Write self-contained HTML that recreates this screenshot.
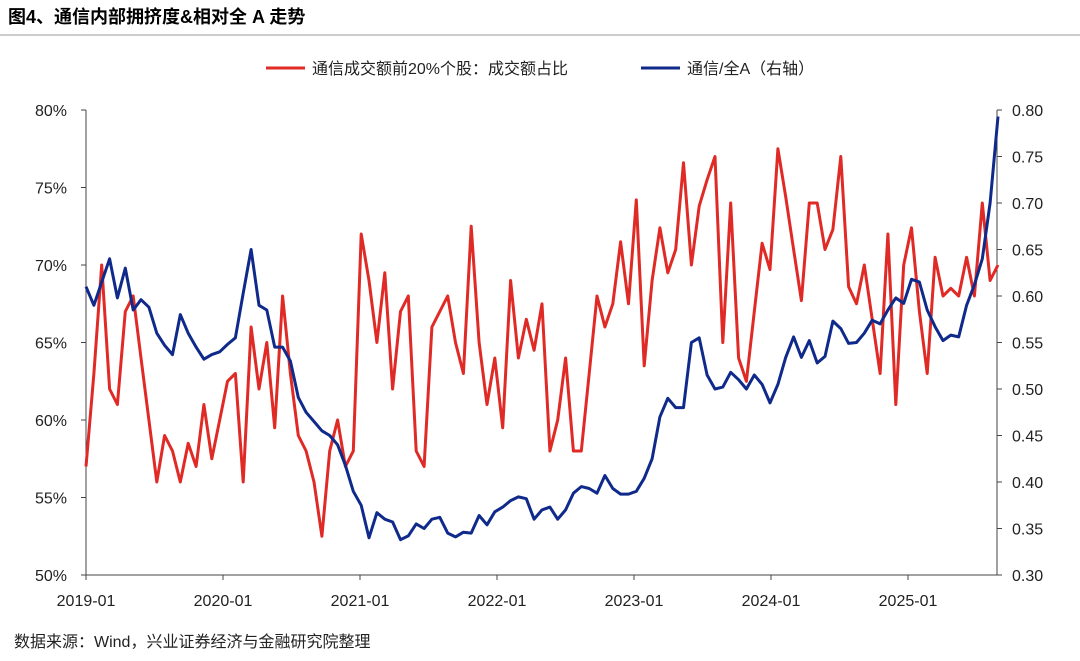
<!DOCTYPE html>
<html><head><meta charset="utf-8">
<style>
body{margin:0;background:#fff;width:1080px;height:656px;overflow:hidden;font-family:"Liberation Sans","Noto Sans CJK SC",sans-serif;}
svg text{font-family:"Liberation Sans","Noto Sans CJK SC",sans-serif;}
</style></head>
<body>
<svg id="chart" width="1080" height="656">
<text x="8" y="23" font-size="18" font-weight="bold" fill="#000">图4、通信内部拥挤度&amp;相对全 A 走势</text>
<line x1="0" y1="35" x2="1080" y2="35" stroke="#999" stroke-width="1"/>
<g>
<g><line x1="266" y1="68" x2="305" y2="68" stroke="#e02a26" stroke-width="3"/><text x="312" y="74" font-size="16" fill="#222">通信成交额前20%个股：成交额占比</text></g>
<g><line x1="641" y1="68" x2="680" y2="68" stroke="#0f2a8a" stroke-width="3"/><text x="687" y="74" font-size="16" fill="#222">通信/全A（右轴）</text></g>
</g>
<g id="axes"></g>
<g id="series"></g>
<text x="14" y="647" font-size="16" fill="#222">数据来源：Wind，兴业证券经济与金融研究院整理</text>
</svg>
<script>
const xLabels=["2019-01","2020-01","2021-01","2022-01","2023-01","2024-01","2025-01"];
const leftTicks=[50,55,60,65,70,75,80];
const rightTicks=[0.30,0.35,0.40,0.45,0.50,0.55,0.60,0.65,0.70,0.75,0.80];
const redShare=[57,63,70,62,61,67,68,64,60,56,59,58,56,58.5,57,61,57.5,60,
62.5,63,56,66,62,65,59.5,68,63,59,58,56,52.5,58,60,57,58,
72,69,65,69.5,62,67,68,58,57,66,67,68,65,63,72.5,65,61,64,
59.5,69,64,66.5,64.5,67.5,58,60,64,58,58,63,68,66,67.5,71.5,67.5,
74.2,63.5,69,72.4,69.5,71,76.6,70,73.8,75.5,77,65,74,64,62.5,67,71.4,69.7,77.5,74.4,71,67.7,74,74,71,72.3,77,68.6,67.5,70,66.5,63,72,61,70,72.4,67,63,70.5,68,68.5,68,70.5,68,74,69,70];
const blueRatio=[0.610,0.590,0.615,0.640,0.598,0.630,0.585,0.596,0.588,0.560,0.547,0.537,0.580,0.560,0.545,0.532,0.537,0.540,
0.548,0.555,0.603,0.650,0.590,0.585,0.545,0.545,0.530,0.491,0.475,0.465,0.455,0.450,0.440,0.418,0.390,
0.375,0.340,0.367,0.360,0.357,0.338,0.342,0.355,0.350,0.360,0.362,0.345,0.341,0.346,0.345,0.364,0.354,0.368,
0.373,0.380,0.384,0.382,0.360,0.370,0.373,0.360,0.370,0.388,0.395,0.393,0.388,0.407,0.393,0.387,0.387,
0.390,0.404,0.425,0.470,0.490,0.480,0.480,0.550,0.555,0.515,0.500,0.502,0.518,0.510,0.500,0.515,0.505,0.485,0.505,0.534,0.556,0.534,0.552,0.528,0.535,0.573,0.565,0.549,0.550,0.560,0.574,0.570,0.585,0.598,0.592,0.618,0.615,0.585,0.567,0.552,0.558,0.556,0.590,0.612,0.640,0.700,0.793];
const NS="http://www.w3.org/2000/svg";
const X0=86,X1=998,YT=110,YB=575;
const n=Math.max(redShare.length,blueRatio.length);
const xs=i=>X0+(X1-X0)*i/(n-1);
const yL=v=>YB-(v-50)/30*(YB-YT);
const yR=v=>YB-(v-0.30)/0.50*(YB-YT);
const yearX=k=>86+137*k;
function mk(t,a,p){const e=document.createElementNS(NS,t);for(const k in a)e.setAttribute(k,a[k]);(p||document.getElementById('axes')).appendChild(e);return e;}
let e;
e=mk('line',{x1:86,y1:YT,x2:86,y2:YB,stroke:'#444','stroke-width':1});


e=mk('line',{x1:997,y1:YT,x2:997,y2:YB,stroke:'#444','stroke-width':1});


e=mk('line',{x1:86,y1:YB,x2:997,y2:YB,stroke:'#444','stroke-width':1});


leftTicks.forEach(v=>{const y=yL(v);
mk('line',{x1:81,y1:y,x2:86,y2:y,stroke:'#444'});
e=mk('text',{x:67,y:y+6,'font-size':16,'text-anchor':'end',fill:'#222'});e.textContent=v+'%';

});
rightTicks.forEach(v=>{const y=yR(v);
mk('line',{x1:997,y1:y,x2:1002,y2:y,stroke:'#444'});
e=mk('text',{x:1012,y:y+6,'font-size':16,fill:'#222'});e.textContent=v.toFixed(2);

});
xLabels.forEach((l,k)=>{const x=yearX(k);
mk('line',{x1:x,y1:YB,x2:x,y2:YB+5,stroke:'#444'});
e=mk('text',{x:x,y:606,'font-size':16,'text-anchor':'middle',fill:'#222'});e.textContent=l;

});
const sg=document.getElementById('series');
let p=redShare.map((v,i)=>(i?'L':'M')+xs(i).toFixed(1)+','+yL(v).toFixed(1)).join('');
e=mk('path',{d:p,fill:'none',stroke:'#e02a26','stroke-width':3,'stroke-linejoin':'round'},sg);


p=blueRatio.map((v,i)=>(i?'L':'M')+xs(i).toFixed(1)+','+yR(v).toFixed(1)).join('');
e=mk('path',{d:p,fill:'none',stroke:'#0f2a8a','stroke-width':3,'stroke-linejoin':'round'},sg);


</script>
</body></html>
